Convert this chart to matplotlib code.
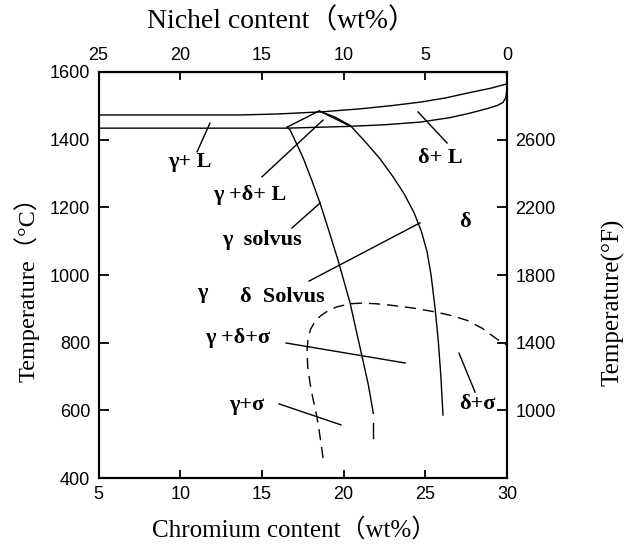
import matplotlib
matplotlib.use("Agg")
import matplotlib.pyplot as plt

SERIF = ["Liberation Serif", "Noto Sans CJK SC"]
SANS = "Liberation Sans"

# liquidus / solidus
liq_cr = [5, 13.66, 16.0, 18.56, 21.0, 23.0, 24.7, 26.2, 27.7, 29.0, 30.0]
liq_t = [1473, 1473, 1476, 1482, 1491, 1501, 1511, 1523, 1539, 1552, 1565]
sol_cr = [5, 16.5, 20.2, 22.5, 24.7, 26.5, 27.7, 28.8, 29.4, 29.75, 29.93, 30.0]
sol_t = [1434, 1434, 1439, 1444, 1452, 1465, 1478, 1492, 1501, 1510, 1525, 1553]

# three-phase triangle
tri_cr = [16.54, 18.5, 20.4]
tri_t = [1437, 1485, 1440]

# gamma solvus
gs_cr = [16.54, 16.72, 17.1, 17.53, 18.05, 18.56, 19.1, 19.68, 20.4, 21.1, 21.5, 21.82]
gs_t = [1437, 1429, 1390, 1345, 1280, 1212, 1130, 1040, 916, 765, 678, 591]
gs_tail_cr = [21.8, 21.8]
gs_tail_t = [562, 518]

# delta solvus
ds_cr = [18.5, 19.5, 20.4, 21.3, 22.2, 23.0, 23.7, 24.3, 24.75, 25.1,
         25.35, 25.6, 25.8, 25.95, 26.08]
ds_t = [1485, 1466, 1442, 1395, 1345, 1292, 1240, 1185, 1130, 1070,
        1000, 900, 800, 700, 586]

# sigma boundary (dashed)
sig_cr = [18.74, 18.56, 18.37, 18.1, 17.94, 17.8, 17.76, 17.82, 17.98, 18.25,
          18.6, 19.1, 19.6, 20.4, 21.13, 22.0, 22.84, 24.3, 25.59, 26.6,
          27.55, 28.5, 29.4, 30.0]
sig_t = [459, 521, 580, 640, 681, 730, 778, 810, 840, 863,
         880, 896, 906, 915, 917, 915, 911, 902, 891, 880,
         866, 842, 810, 793]

# phase labels: text, Cr, T
labels = [
    ("γ+ L", 10.6, 1334),
    ("γ +δ+ L", 14.27, 1236),
    ("γ  solvus", 15.0, 1103),
    ("δ+ L", 25.9, 1346),
    ("δ", 27.43, 1157),
    ("δ  Solvus", 16.23, 935),
    ("γ", 11.33, 947),
    ("γ +δ+σ", 13.54, 814),
    ("γ+σ", 14.09, 616),
    ("δ+σ", 28.2, 619),
]

# leader lines: (Cr0, T0, Cr1, T1)
leaders = [
    (11.82, 1449, 11.03, 1364),
    (18.74, 1458, 15.0, 1290),
    (18.56, 1213, 16.84, 1139),
    (24.55, 1482, 26.33, 1390),
    (24.67, 1154, 17.88, 982),
    (16.48, 799, 23.76, 740),
    (16.05, 619, 19.84, 557),
    (27.06, 769, 28.04, 654),
]

cr_ticks = [5, 10, 15, 20, 25, 30]
ni_ticks = [25, 20, 15, 10, 5, 0]
c_ticks = [400, 600, 800, 1000, 1200, 1400, 1600]
f_ticks = [1000, 1400, 1800, 2200, 2600]

fig = plt.figure(figsize=(6.32, 5.45), dpi=100)
ax = fig.add_axes([0.1559, 0.1229, 0.6464, 0.7450])

lw = 1.0
ax.plot(liq_cr, liq_t, color="black", lw=lw)
ax.plot(sol_cr, sol_t, color="black", lw=lw)
ax.plot(tri_cr, tri_t, color="black", lw=lw)
ax.plot(gs_cr, gs_t, color="black", lw=lw)
ax.plot(gs_tail_cr, gs_tail_t, color="black", lw=lw)
ax.plot(ds_cr, ds_t, color="black", lw=lw)
ax.plot(sig_cr, sig_t, color="black", lw=lw, linestyle=(0, (8, 5)))

for x0, y0, x1, y1 in leaders:
    ax.plot([x0, x1], [y0, y1], color="black", lw=lw)

for txt, x, y in labels:
    ax.text(x, y, txt, ha="center", va="center", fontsize=16,
            fontweight="bold", family=SERIF)

ax.set_xlim(5, 30)
ax.set_ylim(400, 1600)
ax.set_xticks(cr_ticks)
ax.set_yticks(c_ticks)
ax.tick_params(direction="in", length=6, width=1.3, labelsize=13, pad=6)
ax.tick_params(axis="y", length=7)
for lab in ax.get_xticklabels() + ax.get_yticklabels():
    lab.set_family(SANS)
for sp in ax.spines.values():
    sp.set_linewidth(1.5)

# nickel scale on top
top = ax.secondary_xaxis("top", functions=(lambda c: 30 - c, lambda n: 30 - n))
top.set_xticks(ni_ticks)
top.tick_params(direction="in", length=6, width=1.3, labelsize=13, pad=6)
for lab in top.get_xticklabels():
    lab.set_family(SANS)

# Fahrenheit scale on the right
ax2 = ax.twinx()
ax2.set_ylim(600, 3000)
ax2.set_yticks(f_ticks)
ax2.tick_params(direction="in", length=7, width=1.3, labelsize=13, pad=6)
for lab in ax2.get_yticklabels():
    lab.set_family(SANS)
for sp in ax2.spines.values():
    sp.set_linewidth(1.5)

fig.text(281 / 632, 1 - 21 / 545, "Nichel content（wt%）", ha="center",
         va="center", fontsize=20, family=SERIF)
fig.text(294 / 632, 1 - 530 / 545, "Chromium content（wt%）", ha="center",
         va="center", fontsize=18, family=SERIF)
fig.text(27 / 632, 1 - 283 / 545, "Temperature（°C）", ha="center",
         va="center", rotation=90, fontsize=17.5, family=SERIF)
fig.text(613 / 632, 1 - 302 / 545, "Temperature(°F)", ha="center",
         va="center", rotation=90, fontsize=18, family=SERIF)

fig.savefig("out.png", dpi=100)
